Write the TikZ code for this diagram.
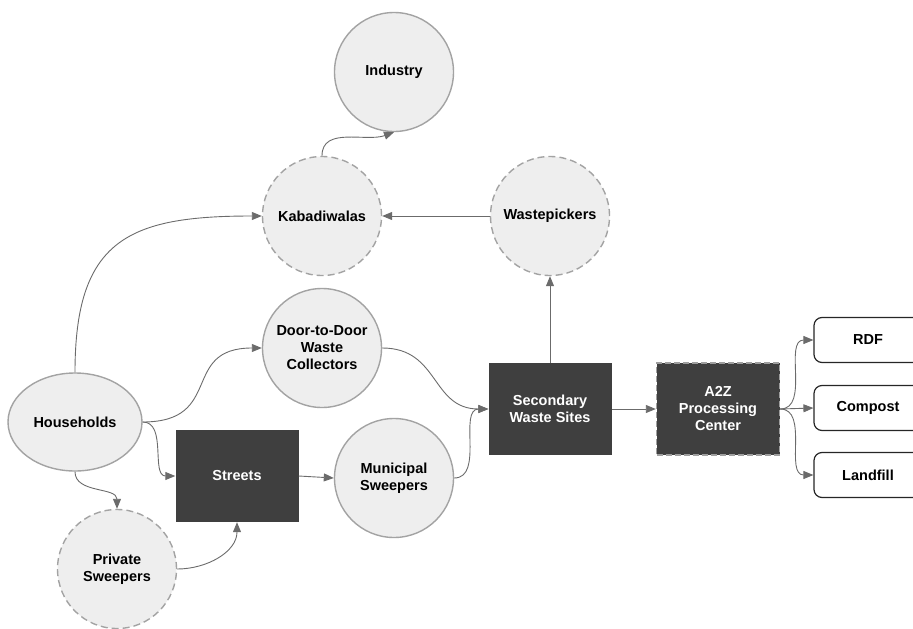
\documentclass[tikz,border=0pt]{standalone}
\usepackage{fontspec}
\setmainfont{Liberation Sans}
\usetikzlibrary{arrows.meta, shapes.geometric}

\definecolor{actorfill}{HTML}{EEEEEE}
\definecolor{actorline}{HTML}{A3A3A3}
\definecolor{sitefill}{HTML}{3F3F3F}
\definecolor{flowline}{HTML}{6B6B6B}

\tikzset{
    actor/.style={circle, draw=actorline, fill=actorfill, line width=1.4pt,
        minimum size=119pt, inner sep=0pt, align=center,
        font=\fontsize{14.5}{17}\selectfont\bfseries},
    informal/.style={actor, dash pattern=on 7pt off 4pt},
    site/.style={rectangle, fill=sitefill, text=white, minimum width=123pt,
        minimum height=92pt, inner sep=0pt, align=center,
        font=\fontsize{14.5}{17}\selectfont\bfseries},
    outcome/.style={rectangle, rounded corners=8pt, draw=black!85, fill=white,
        line width=1.2pt, minimum width=108pt, minimum height=45pt,
        font=\fontsize{14.5}{17}\selectfont\bfseries},
    flow/.style={draw=flowline, line width=0.9pt, -{Triangle[length=10pt,width=8pt]}}
}

\begin{document}
\begin{tikzpicture}[x=1pt, y=-1pt]
    \useasboundingbox (0,0) rectangle (913,629);

    % collectors
    \node [actor] (industry) at (394,72) {Industry};
    \node [informal] (kabadi) at (322,216) {Kabadiwalas};
    \node [informal] (pickers) at (550,216) {Wastepickers};
    \node [actor] (door) at (322,348) {Door-to-Door\\Waste\\Collectors};
    \node [actor, ellipse, minimum width=134pt, minimum height=98pt] (house) at (75,422) {Households};
    \node [site] (streets) at (237,476) {Streets};
    \node [actor] (municipal) at (394,478) {Municipal\\Sweepers};
    \node [informal] (private) at (117,569) {Private\\Sweepers};
    \node [site] (secondary) at (550,409) {Secondary\\Waste Sites};
    \node [site, draw=gray!75, line width=1.4pt, dash pattern=on 6pt off 3pt] (a2z) at (718,409) {A2Z\\Processing\\Center};

    % outputs
    \node [outcome] (rdf) at (868,340) {RDF};
    \node [outcome] (compost) at (868,408) {Compost};
    \node [outcome] (landfill) at (868,475) {Landfill};

    \draw [flow] (house.north) to [out=90, in=180, looseness=1.4] (kabadi.west);
    \draw [flow] (house.east) to [out=0, in=180, looseness=1.5] (door.west);
    \draw [flow] (house.east) to [out=0, in=180] (streets.west);
    \draw [flow] (house.south) to [out=-90, in=90] (private.north);
    \draw [flow] (private.east) to [out=0, in=-90] (streets.south);
    \draw [flow] (streets.east) -- (municipal.west);
    \draw [flow] (door.east) to [out=0, in=180, looseness=1.2] (secondary.west);
    \draw [flow] (municipal.east) to [out=0, in=180] (secondary.west);
    \draw [flow] (secondary.north) -- (pickers.south);
    \draw [flow] (pickers.west) -- (kabadi.east);
    \draw [flow] (kabadi.north) to [out=90, in=200] (industry.south);
    \draw [flow] (secondary.east) -- (a2z.west);
    \draw [flow] (a2z.east) to [out=0, in=180] (rdf.west);
    \draw [flow] (a2z.east) -- (compost.west);
    \draw [flow] (a2z.east) to [out=0, in=180] (landfill.west);
\end{tikzpicture}
\end{document}
